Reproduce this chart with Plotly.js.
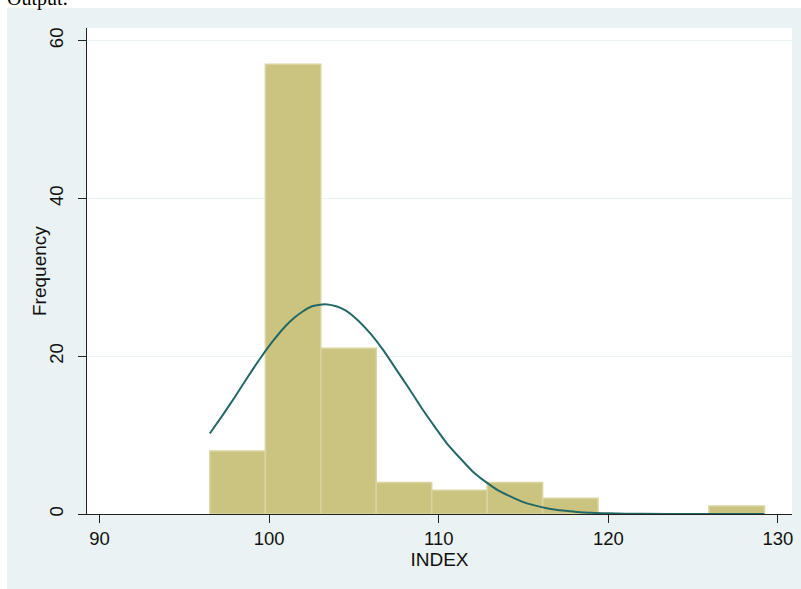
<!DOCTYPE html>
<html>
<head>
<meta charset="utf-8">
<script src="https://cdn.plot.ly/plotly-3.0.1.min.js"></script>
<style>
  html, body { margin: 0; padding: 0; background: #ffffff; width: 801px; height: 589px; overflow: hidden; }
  #bg { position: absolute; left: 7px; top: 8px; width: 794px; height: 581px; background: rgb(234,242,243); }
  #out { position: absolute; left: 7px; top: -12px; font-family: "Liberation Serif", "DejaVu Serif", serif; font-size: 20px; line-height: 20px; color: #000; }
  #chart { position: absolute; left: 0; top: 0; width: 801px; height: 589px; }
</style>
</head>
<body>
<div id="bg"></div>
<div id="out">Output:</div>
<div id="chart"></div>
<script>
// Histogram bins
const binCenters = [98.14, 101.41, 104.68, 107.95, 111.22, 114.49, 117.76, 121.03, 124.30, 127.57];
const binWidth = 3.27;
const frequencies = [8, 57, 21, 4, 3, 4, 2, 0, 0, 1];

// Normal density overlay
const curveX = [96.5, 97.25, 98, 98.75, 99.5, 100.25, 101, 101.5, 102, 102.5, 103.3, 104, 104.5, 105, 106, 106.75, 107.5, 108.25, 109, 109.75, 110.5, 111.25, 112, 112.75, 113.5, 114.25, 115, 116, 117, 118, 119, 120, 122, 125, 129.2];
const curveY = [10.2, 12.5, 14.9, 17.4, 19.8, 22.0, 23.9, 24.9, 25.7, 26.3, 26.6, 26.3, 25.8, 25.0, 22.8, 20.7, 18.3, 15.9, 13.4, 11.1, 8.9, 7.1, 5.4, 4.1, 3.0, 2.2, 1.5, 0.9, 0.5, 0.3, 0.15, 0.08, 0.02, 0.0, 0.0];

// Axis ticks
const xTicks = [90, 100, 110, 120, 130];
const yTicks = [0, 20, 40, 60];

const bars = {
  type: 'bar',
  x: binCenters,
  y: frequencies,
  width: binCenters.map(() => binWidth),
  marker: { color: 'rgb(203,196,128)', line: { color: 'rgb(217,212,160)', width: 1.5 } },
  hoverinfo: 'x+y',
  showlegend: false
};

const curve = {
  type: 'scatter',
  mode: 'lines',
  x: curveX,
  y: curveY,
  line: { color: 'rgb(36,104,102)', width: 2, shape: 'spline', smoothing: 0.6 },
  showlegend: false
};

const fontFam = 'Liberation Sans, Arial, sans-serif';
const tickFont = { family: fontFam, size: 18.5, color: '#111' };

const layout = {
  width: 801,
  height: 589,
  margin: { l: 87, r: 9, t: 28, b: 75 },
  paper_bgcolor: 'rgba(0,0,0,0)',
  plot_bgcolor: '#ffffff',
  bargap: 0,
  showlegend: false,
  xaxis: {
    range: [89.26, 130.83],
    tickmode: 'array',
    tickvals: xTicks,
    ticktext: xTicks.map(String),
    ticks: 'outside',
    ticklen: 8,
    tickwidth: 1,
    tickcolor: '#222',
    showline: true,
    linecolor: '#222',
    linewidth: 1,
    showgrid: false,
    zeroline: false,
    tickfont: tickFont,
    title: { text: 'INDEX', font: { family: fontFam, size: 19, color: '#111' }, standoff: 2 }
  },
  yaxis: {
    range: [0, 61.6],
    tickmode: 'array',
    tickvals: yTicks,
    ticktext: yTicks.map(String),
    ticks: 'outside',
    ticklen: 8,
    tickwidth: 1,
    tickcolor: '#222',
    tickangle: -90,
    ticklabelstandoff: 8,
    showline: true,
    linecolor: '#222',
    linewidth: 1,
    showgrid: true,
    gridcolor: 'rgb(234,242,243)',
    gridwidth: 1,
    zeroline: false,
    tickfont: tickFont,
    title: { text: '' }
  },
  annotations: [{
    text: 'Frequency',
    xref: 'paper', yref: 'paper',
    x: 0, y: 0.5,
    xanchor: 'center', yanchor: 'middle',
    xshift: -48,
    textangle: -90,
    showarrow: false,
    font: { family: fontFam, size: 19, color: '#111' }
  }]
};

Plotly.newPlot('chart', [bars, curve], layout, { displayModeBar: false, staticPlot: true });
</script>
</body>
</html>
